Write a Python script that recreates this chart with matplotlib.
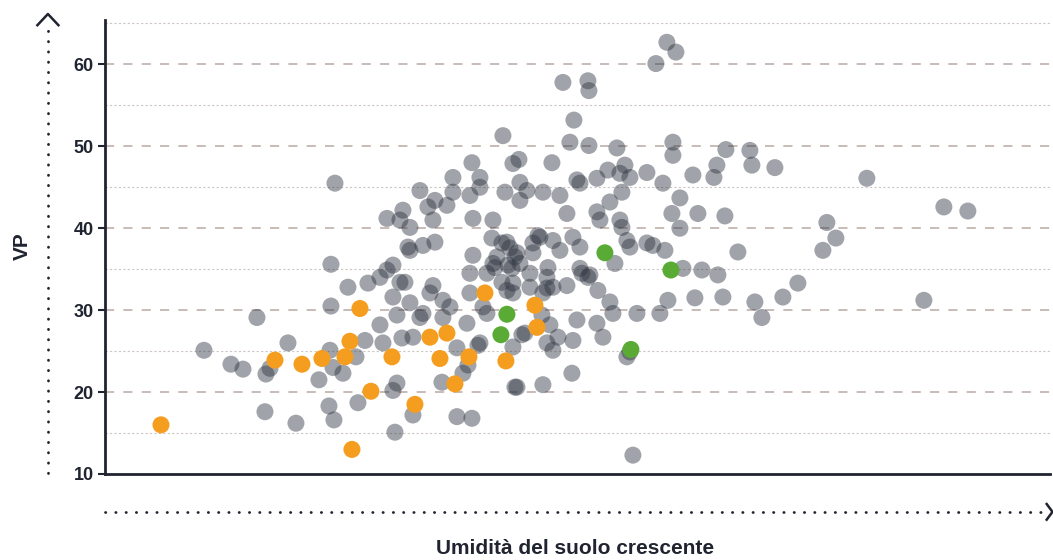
import numpy as np
import matplotlib
matplotlib.use("Agg")
from matplotlib import pyplot as plt
from matplotlib.lines import Line2D

plt.rcParams['font.family'] = ['Liberation Sans', 'DejaVu Sans']

# soil moisture index (no units shown on the axis) and VP for every plot
grey_x = [9.9, 12.6, 13.8, 15.2, 16.1, 16.5, 16.0, 19.1, 18.3, 21.4,
          22.6, 24.3, 26.3, 22.6, 22.5, 22.8, 23.8, 25.1, 26.0, 27.5,
          27.8, 28.8, 25.3, 22.4, 22.9, 29.0, 29.2, 31.5, 29.7, 30.8,
          29.2, 30.8, 33.7, 35.8, 36.3, 37.3, 35.2, 36.2, 33.8, 38.2,
          40.8, 41.0, 35.2, 36.7, 23.0, 36.7, 34.8, 37.5, 37.5, 34.8,
          36.5, 31.5, 33.0, 34.2, 32.3, 32.8, 29.8, 29.5, 28.2, 30.5,
          36.8, 38.8, 40.0, 40.8, 33.0, 31.8, 30.3, 30.5, 36.8, 38.7,
          39.7, 40.5, 39.2, 41.0, 28.8, 28.2, 27.5, 29.5, 30.0, 32.8,
          32.5, 33.8, 34.5, 36.5, 38.2, 39.0, 39.7, 40.2, 36.5, 37.8,
          30.5, 31.8, 28.8, 39.8, 46.5, 48.4, 51.2, 41.4, 44.7, 41.5,
          42.2, 43.8, 45.5, 47.2, 47.5, 49.2, 50.3, 52.0, 51.5, 52.5,
          54.2, 51.7, 50.5, 46.2, 49.2, 49.5, 51.5, 51.7, 52.2, 52.5,
          40.2, 41.2, 42.8, 43.5, 44.8, 45.5, 46.8, 47.5, 51.0, 54.2,
          38.8, 40.3, 41.5, 42.5, 44.3, 44.2, 46.2, 47.5, 48.5, 49.3,
          50.5, 50.8, 53.2, 49.2, 49.8, 47.2, 46.8, 44.8, 44.2, 42.0,
          37.5, 40.8, 42.5, 43.8, 44.8, 52.5, 56.2, 57.1, 55.1, 45.8,
          48.3, 48.4, 46.9, 56.8, 56.8, 55.8, 58.8, 57.5, 56.7, 57.5,
          59.3, 43.3, 62.1, 64.5, 64.7, 67.0, 61.2, 60.9, 76.2, 62.0,
          72.2, 73.1, 71.8, 83.9, 86.3, 54.8, 56.0, 63.3, 57.8, 59.7,
          61.3, 56.3, 59.0, 61.8, 65.0, 65.7, 67.8, 69.3, 81.9, 52.8,
          42.8, 40.7, 40.8, 44.2, 47.7, 48.3, 55.5, 43.7, 44.5, 45.3,
          41.7, 52.2, 46.7, 41.2, 43.8, 41.5]
grey_y = [25.1, 23.4, 22.8, 29.1, 22.2, 22.9, 17.6, 16.2, 26.0, 21.5,
          35.6, 32.8, 33.3, 30.5, 25.1, 23.0, 22.3, 24.3, 26.3, 28.2,
          26.0, 20.2, 18.7, 18.3, 16.6, 15.1, 29.4, 29.1, 26.6, 26.7,
          21.1, 17.2, 21.2, 22.3, 23.3, 25.7, 25.4, 28.4, 29.1, 29.6,
          25.5, 20.6, 17.0, 16.8, 45.5, 48.0, 46.2, 46.2, 45.0, 44.4,
          44.0, 44.6, 43.4, 42.8, 42.6, 41.0, 42.2, 41.0, 41.2, 40.1,
          41.2, 41.0, 44.4, 47.9, 38.3, 37.9, 37.7, 37.3, 36.7, 38.8,
          38.2, 37.6, 36.5, 36.5, 35.5, 34.9, 34.0, 33.4, 33.4, 33.0,
          32.1, 31.2, 30.4, 34.5, 34.5, 35.2, 33.4, 32.4, 32.1, 30.4,
          30.9, 29.6, 31.6, 51.3, 50.5, 50.1, 49.8, 48.4, 48.0, 45.6,
          44.6, 44.4, 44.0, 45.9, 45.5, 46.1, 47.1, 47.7, 46.7, 46.2,
          46.8, 44.4, 43.2, 41.8, 42.0, 41.0, 41.0, 40.1, 38.5, 37.7,
          38.3, 37.0, 38.2, 38.9, 38.5, 37.3, 38.9, 37.7, 35.7, 38.2,
          35.7, 35.5, 35.7, 34.5, 35.2, 34.0, 33.0, 35.1, 34.3, 32.4,
          31.0, 29.6, 29.6, 28.4, 26.7, 28.8, 26.3, 25.1, 26.0, 27.2,
          26.0, 32.1, 32.8, 32.1, 32.8, 24.9, 62.7, 61.5, 60.1, 57.8,
          58.0, 56.8, 53.2, 50.5, 48.9, 45.5, 46.5, 43.7, 41.8, 40.0,
          41.8, 39.1, 49.6, 49.5, 47.7, 47.4, 47.7, 46.2, 46.1, 41.5,
          40.7, 38.8, 37.3, 42.6, 42.1, 37.9, 37.3, 37.1, 35.1, 34.9,
          34.3, 31.2, 31.5, 31.6, 31.0, 29.1, 31.6, 33.3, 31.2, 12.3,
          37.0, 35.1, 33.3, 32.7, 34.5, 34.0, 29.6, 29.4, 28.2, 26.7,
          27.0, 24.3, 22.3, 20.6, 20.9, 43.4]

orange_x = [5.6, 17.0, 19.7, 21.7, 24.0, 24.5, 25.5, 24.7, 26.6, 28.7,
            31.0, 32.5, 33.5, 34.2, 35.0, 36.4, 38.0, 40.1, 43.0, 43.2]
orange_y = [16.0, 23.9, 23.4, 24.1, 24.3, 26.2, 30.2, 13.0, 20.1, 24.3,
            18.5, 26.7, 24.1, 27.2, 21.0, 24.3, 32.1, 23.8, 30.6, 27.9]

green_x = [50.0, 56.6, 40.2, 39.6, 52.6]
green_y = [37.0, 34.9, 29.5, 27.0, 25.2]

major_ticks = [10, 20, 30, 40, 50, 60]
minor_ticks = [15, 25, 35, 45, 55, 65]

ink = '#1f2430'

fig = plt.figure(figsize=(10.53, 5.6), dpi=100)
ax = fig.add_axes([0.0997, 0.1536, 0.8973, 0.8104])

for v in major_ticks[1:]:
    ax.axhline(v, color='#b9aaa4', lw=1.1, ls=(0, (6, 6)), zorder=0)
for v in minor_ticks:
    ax.axhline(v, color='#cfc6c4', lw=0.8, ls=(0, (2, 2)), zorder=0)

ax.scatter(grey_x, grey_y, s=150, color='#2e3440', alpha=0.45,
           edgecolors='none', zorder=2)
ax.scatter(orange_x, orange_y, s=150, color='#f59d1e',
           edgecolors='none', zorder=3)
ax.scatter(green_x, green_y, s=150, color='#5aab36',
           edgecolors='none', zorder=3)

ax.set_xlim(0, 94.5)
ax.set_ylim(10, 65.4)
ax.set_yticks(major_ticks)
ax.set_xticks([])
for side in ['top', 'right']:
    ax.spines[side].set_visible(False)
for side in ['left', 'bottom']:
    ax.spines[side].set_color(ink)
    ax.spines[side].set_linewidth(2)
ax.tick_params(axis='y', length=5, width=1.5, color=ink,
               labelsize=13, pad=3)
for lab in ax.get_yticklabels():
    lab.set_fontweight('bold')
    lab.set_color(ink)

# dotted arrows standing in for the axis directions
fig.add_artist(Line2D([0.0453, 0.0453], [0.155, 0.95], transform=fig.transFigure,
                      color=ink, lw=2, ls=(0, (0.1, 3.6)),
                      dash_capstyle='round'))
fig.add_artist(Line2D([0.0355, 0.0455, 0.0555], [0.955, 0.975, 0.955],
                      transform=fig.transFigure, color=ink, lw=1.8))
fig.add_artist(Line2D([0.1, 0.993], [0.086, 0.086], transform=fig.transFigure,
                      color=ink, lw=2, ls=(0, (0.1, 3.6)),
                      dash_capstyle='round'))
fig.add_artist(Line2D([0.994, 0.9995, 0.994], [0.1, 0.086, 0.072],
                      transform=fig.transFigure, color=ink, lw=1.8))

fig.text(0.021, 0.56, 'VP', rotation=90, ha='center', va='center',
         fontsize=15, fontweight='bold', color=ink)
fig.text(0.546, 0.021, 'Umidità del suolo crescente', ha='center',
         va='center', fontsize=15, fontweight='bold', color=ink)

fig.savefig('out.png', dpi=100)
